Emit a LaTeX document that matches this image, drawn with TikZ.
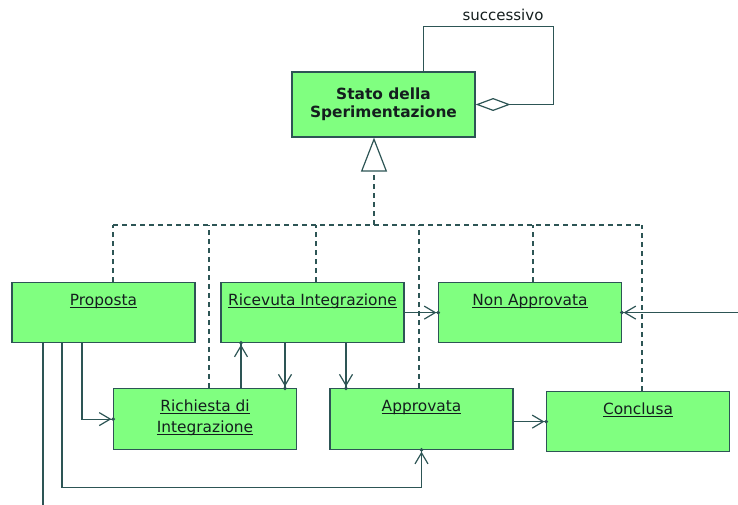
\documentclass[tikz,border=0pt]{standalone}
\usepackage{fontspec}
\setmainfont{DejaVu Sans}
\usetikzlibrary{calc,arrows.meta}
\definecolor{umlline}{RGB}{45,85,85}
\definecolor{umlgreen}{RGB}{128,255,128}
\definecolor{umltext}{RGB}{20,30,30}
\newcommand{\undl}[1]{\setbox0=\hbox{#1}\rlap{\rule[-2pt]{\wd0}{0.9pt}}\box0}

\tikzset{
  state/.style={draw=umlline, line width=1.2pt, fill=umlgreen, text=umltext,
    minimum width=183pt, inner sep=0pt, anchor=north,
    text height=23pt, text depth=37pt, font=\fontsize{15.4}{21}\selectfont},
  link/.style={draw=umlline, line width=1.2pt},
  trans/.style={link, -{Straight Barb[length=11pt,width=13pt] Circle[length=3.5pt,sep=-2pt]}},
  gen/.style={link, dash pattern=on 5pt off 4pt},
}

\begin{document}
\begin{tikzpicture}[x=1pt,y=-1pt]
  \useasboundingbox (0,0) rectangle (738,504);

  \node[state, anchor=center, minimum height=65pt, text height=, text depth=,
    align=center, font=\fontsize{15.4}{18}\selectfont\bfseries] (stato) at (383.5,104.5)
    {Stato della\\Sperimentazione};
  \draw[link, {Diamond[open,length=35pt,width=13pt]}-] (stato.east) -- ++(78,0)
    |- ([xshift=40pt,yshift=45pt]stato.north) -- ([xshift=40pt]stato.north);
  \node[text=umltext, font=\fontsize{15}{18}\selectfont] (succ) at (503,15) {successivo};

  \node[state] (proposta)  at (103.5,282) {\undl{Proposta}};
  \node[state] (ricevuta)  at (312.5,282) {\undl{Ricevuta Integrazione}};
  \node[state] (nonappr)   at (530,282)   {\undl{Non Approvata}};
  \node[state, text depth=38pt] (richiesta) at (205,388)
    {\begin{tabular}[t]{@{}c@{}}\undl{Richiesta di}\\\undl{Integrazione}\end{tabular}};
  \node[state, text depth=38pt] (approvata) at (421.5,388) {\undl{Approvata}};
  \node[state] (conclusa)  at (638,391)   {\undl{Conclusa}};

  \coordinate (bus) at (374,225);
  \draw[gen, -{Triangle[open,length=34pt,width=26pt]}] (bus) -- (stato.south -| bus);
  \draw[gen] (113,225) -- (642,225);
  \foreach \n/\x in {proposta/113, richiesta/209, ricevuta/316,
                     approvata/419, nonappr/533, conclusa/642}
    \draw[gen] (\n.north -| \x,0) -- (\x,225);

  \coordinate (exit) at ([xshift=-60.5pt,yshift=-175pt]proposta.south);
  \coordinate (ext) at ([xshift=130pt]nonappr.east);
  \draw[link] ([xshift=-60.5pt]proposta.south) -- (exit);
  \draw[trans] ([xshift=-21.5pt]proposta.south) |- (richiesta.west);
  \draw[trans] ([xshift=-41.5pt]proposta.south) |- ([yshift=-37pt]approvata.south)
    -- (approvata.south);
  \draw[trans] ([xshift=36pt]richiesta.north) -- ([xshift=36pt]richiesta.north |- ricevuta.south);
  \draw[trans] ([xshift=-27.5pt]ricevuta.south) -- ([xshift=-27.5pt]ricevuta.south |- richiesta.north);
  \draw[trans] ([xshift=33.5pt]ricevuta.south) -- ([xshift=33.5pt]ricevuta.south |- approvata.north);
  \draw[trans] (ricevuta.east) -- (nonappr.west);
  \draw[trans] (ext) -- (nonappr.east);
  \draw[trans] (approvata.east |- conclusa.west) -- (conclusa.west);
\end{tikzpicture}
\end{document}
